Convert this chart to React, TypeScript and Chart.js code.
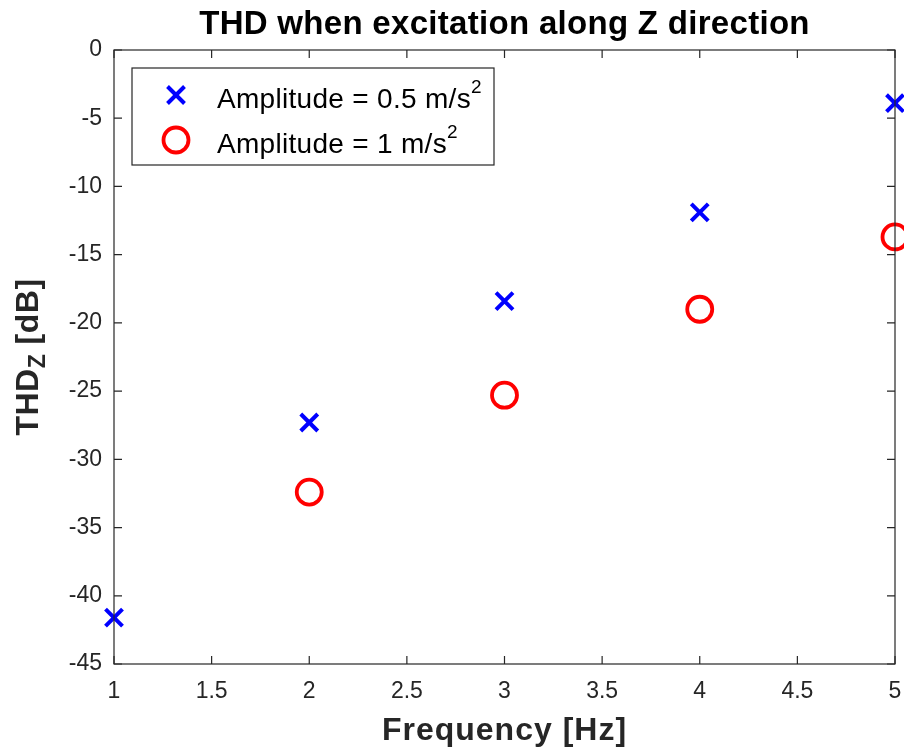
import { useEffect, useRef } from 'react';
import { Chart, registerables } from 'chart.js';

Chart.register(...registerables);

const frequencies = [1, 2, 3, 4, 5];
const thdHalf = [-41.6, -27.3, -18.4, -11.9, -3.9];
const frequenciesOne = [2, 3, 4, 5];
const thdOne = [-32.4, -25.3, -19.0, -13.7];
const xTicks = [1, 1.5, 2, 2.5, 3, 3.5, 4, 4.5, 5];
const xTickLabels = ['1', '1.5', '2', '2.5', '3', '3.5', '4', '4.5', '5'];
const yTicks = [0, -5, -10, -15, -20, -25, -30, -35, -40, -45];
const yTickLabels = ['0', '-5', '-10', '-15', '-20', '-25', '-30', '-35', '-40', '-45'];
const titleText = 'THD when excitation along Z direction';
const xTitle = 'Frequency [Hz]';
const yTitleMain = 'THD';
const yTitleSub = 'Z';
const yTitleRest = ' [dB]';
const legendMain = ['Amplitude = 0.5 m/s', 'Amplitude = 1 m/s'];
const legendSup = ['2', '2'];

const FONT = '"Liberation Sans", Arial, Helvetica, sans-serif';
const AXIS = '#262626';
const BLUE = '#0000ff';
const RED = '#ff0000';

function drawCross(ctx: CanvasRenderingContext2D, x: number, y: number, r: number) {
  const o = r * Math.SQRT1_2;
  ctx.save();
  ctx.strokeStyle = BLUE;
  ctx.lineWidth = 4;
  ctx.beginPath();
  ctx.moveTo(x - o, y - o);
  ctx.lineTo(x + o, y + o);
  ctx.moveTo(x - o, y + o);
  ctx.lineTo(x + o, y - o);
  ctx.stroke();
  ctx.restore();
}

function drawCircle(ctx: CanvasRenderingContext2D, x: number, y: number, r: number) {
  ctx.save();
  ctx.strokeStyle = RED;
  ctx.lineWidth = 3.8;
  ctx.beginPath();
  ctx.arc(x, y, r, 0, Math.PI * 2);
  ctx.stroke();
  ctx.restore();
}

const decorPlugin = {
  id: 'decor',
  afterDraw(chart: any) {
    const ctx: any = chart.ctx;
    const { left, right, top, bottom } = chart.chartArea;
    const xs = chart.scales.x;
    const ys = chart.scales.y;
    ctx.save();
    ctx.strokeStyle = AXIS;
    ctx.lineWidth = 1.2;
    ctx.strokeRect(left, top, right - left, bottom - top);
    const tl = 8;
    ctx.beginPath();
    xTicks.forEach((v) => {
      const px = xs.getPixelForValue(v);
      ctx.moveTo(px, bottom);
      ctx.lineTo(px, bottom - tl);
      ctx.moveTo(px, top);
      ctx.lineTo(px, top + tl);
    });
    yTicks.forEach((v) => {
      const py = ys.getPixelForValue(v);
      ctx.moveTo(left, py);
      ctx.lineTo(left + tl, py);
      ctx.moveTo(right, py);
      ctx.lineTo(right - tl, py);
    });
    ctx.stroke();

    ctx.fillStyle = '#000';
    ctx.font = `bold 33px ${FONT}`;
    ctx.letterSpacing = '0.3px';
    ctx.textAlign = 'center';
    ctx.textBaseline = 'alphabetic';
    ctx.fillText(titleText, (left + right) / 2, 34);

    ctx.fillStyle = AXIS;
    ctx.font = `bold 32px ${FONT}`;
    ctx.letterSpacing = '1px';
    ctx.fillText(xTitle, (left + right) / 2, 740);

    ctx.save();
    ctx.translate(38, 357);
    ctx.rotate(-Math.PI / 2);
    ctx.textAlign = 'left';
    ctx.letterSpacing = '0.5px';
    const mainFont = `bold 32px ${FONT}`;
    const subFont = `bold 23px ${FONT}`;
    ctx.font = mainFont;
    const w1 = ctx.measureText(yTitleMain).width;
    ctx.font = subFont;
    const w2 = ctx.measureText(yTitleSub).width;
    ctx.font = mainFont;
    const w3 = ctx.measureText(yTitleRest).width;
    const total = w1 + w2 + w3;
    let cx = -total / 2;
    ctx.fillText(yTitleMain, cx, 0);
    cx += w1;
    ctx.font = subFont;
    ctx.fillText(yTitleSub, cx, 7);
    cx += w2;
    ctx.font = mainFont;
    ctx.fillText(yTitleRest, cx, 0);
    ctx.restore();

    const bx = 132, by = 68, bw = 362, bh = 97;
    ctx.fillStyle = '#fff';
    ctx.fillRect(bx, by, bw, bh);
    ctx.strokeStyle = AXIS;
    ctx.lineWidth = 1.2;
    ctx.strokeRect(bx, by, bw, bh);
    drawCross(ctx, 176, 95, 12);
    drawCircle(ctx, 176, 140, 12.5);
    const baselines = [108, 153];
    ctx.letterSpacing = '0.3px';
    legendMain.forEach((t, i) => {
      ctx.fillStyle = '#000';
      ctx.textAlign = 'left';
      ctx.font = `28px ${FONT}`;
      ctx.fillText(t, 217, baselines[i]);
      const w = ctx.measureText(t).width;
      ctx.font = `19px ${FONT}`;
      ctx.fillText(legendSup[i], 217 + w, baselines[i] - 15);
    });
    ctx.letterSpacing = '0px';
    ctx.restore();
  },
};

export default function App() {
  const ref = useRef<HTMLCanvasElement | null>(null);
  useEffect(() => {
    document.body.style.margin = '0';
    const canvas = ref.current;
    if (!canvas) return;
    const chart = new Chart(canvas, {
      type: 'scatter',
      data: {
        datasets: [
          {
            label: legendMain[0],
            data: frequencies.map((f, i) => ({ x: f, y: thdHalf[i] })),
            pointStyle: 'crossRot',
            radius: 12,
            hoverRadius: 12,
            borderWidth: 4,
            hoverBorderWidth: 4,
            borderColor: BLUE,
            backgroundColor: BLUE,
            clip: false,
          } as any,
          {
            label: legendMain[1],
            data: frequenciesOne.map((f, i) => ({ x: f, y: thdOne[i] })),
            pointStyle: 'circle',
            radius: 12.5,
            hoverRadius: 12.5,
            borderWidth: 3.8,
            hoverBorderWidth: 3.8,
            borderColor: RED,
            backgroundColor: 'rgba(0,0,0,0)',
            clip: false,
          } as any,
        ],
      },
      options: {
        responsive: false,
        animation: false,
        events: [],
        layout: { autoPadding: false, padding: { top: 50, right: 9, left: 0, bottom: 0 } },
        plugins: {
          legend: { display: false },
          title: { display: false },
          tooltip: { enabled: false },
        },
        scales: {
          x: {
            type: 'linear',
            min: 1,
            max: 5,
            afterBuildTicks: (s: any) => {
              s.ticks = xTicks.map((v) => ({ value: v }));
            },
            afterFit: (s: any) => {
              s.height = 85;
              s.paddingLeft = 0;
              s.paddingRight = 0;
            },
            grid: { display: false, drawTicks: false },
            border: { display: false },
            ticks: {
              autoSkip: false,
              maxRotation: 0,
              padding: 14,
              color: AXIS,
              font: { family: FONT, size: 23 },
              callback: (_v: any, i: number) => xTickLabels[i],
            },
          },
          y: {
            type: 'linear',
            min: -45,
            max: 0,
            afterBuildTicks: (s: any) => {
              s.ticks = yTicks.map((v) => ({ value: v }));
            },
            afterFit: (s: any) => {
              s.width = 114;
              s.paddingTop = 0;
              s.paddingBottom = 0;
            },
            grid: { display: false, drawTicks: false },
            border: { display: false },
            ticks: {
              autoSkip: false,
              padding: 12,
              color: AXIS,
              font: { family: FONT, size: 23 },
              callback: (_v: any, i: number) => yTickLabels[i],
            },
          },
        },
      },
      plugins: [decorPlugin],
    });
    return () => chart.destroy();
  }, []);
  return <canvas ref={ref} width={904} height={749} style={{ display: 'block', width: 904, height: 749 }} />;
}
